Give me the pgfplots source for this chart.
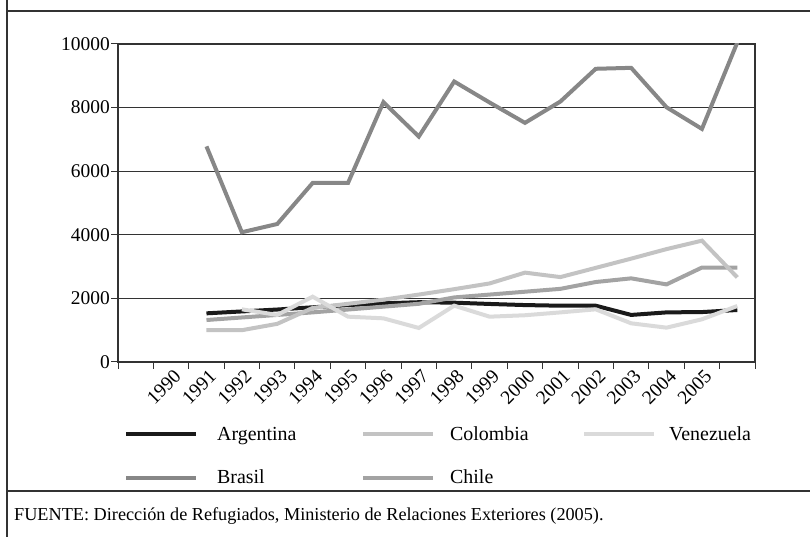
\documentclass[border=0pt]{standalone}
\usepackage{fontspec}
\setmainfont{Liberation Serif}
\usepackage{pgfplots}
\pgfplotsset{compat=1.18}
\definecolor{cArg}{HTML}{1A1A1A}
\definecolor{cBra}{HTML}{878787}
\definecolor{cChi}{HTML}{A3A3A3}
\definecolor{cCol}{HTML}{C3C3C3}
\definecolor{cVen}{HTML}{DADADA}
\definecolor{frm}{HTML}{333333}
\begin{document}
\begin{tikzpicture}[x=1bp,y=1bp]
\path[use as bounding box] (0,0) rectangle (810,537);
\draw[frm, line width=1.3bp] (7,537) -- (7,0);
\draw[frm, line width=1.3bp] (7,526) -- (810,526);
\draw[frm, line width=1.3bp] (7,46) -- (810,46);
\node[anchor=base west, inner sep=0pt, font=\fontsize{18.3}{21}\selectfont] at (14,16) {FUENTE: Dirección de Refugiados, Ministerio de Relaciones Exteriores (2005).};
\begin{axis}[
  at={(118bp,175bp)}, anchor=south west,
  scale only axis, width=637bp, height=318bp,
  xmin=-0.5, xmax=17.5, ymin=0, ymax=10000,
  xtick={-0.5,0.5,...,17.5}, xticklabels={},
  extra x ticks={1.05,2.05,...,16.05},
  extra x tick labels={1990,1991,1992,1993,1994,1995,1996,1997,1998,1999,2000,2001,2002,2003,2004,2005},
  extra x tick style={major tick length=0pt, grid=none},
  xticklabel shift=5bp,
  xtick pos=bottom, ytick pos=left,
  ytick={0,2000,...,10000},
  ymajorgrids, grid style={frm, line width=0.9bp},
  tick align=outside, major tick length=7bp,
  tick style={frm, line width=1bp},
  axis line style={frm, line width=1.2bp},
  scaled y ticks=false,
  /pgf/number format/assume math mode=true,
  /pgf/number format/1000 sep={},
  yticklabel style={font=\fontsize{19.5}{22}\selectfont, inner sep=1bp},
  xticklabel style={font=\fontsize{19.5}{22}\selectfont, rotate=45, anchor=north east, inner sep=1bp},
  clip=true,
  legend columns=3,
  legend cell align=left,
  legend image code/.code={\draw[#1] (0bp,0bp) -- (70bp,0bp);},
  legend style={at={(axis description cs:0.0094,-0.1964)}, anchor=north west, draw=none, fill=none, inner sep=0pt,
    font=\fontsize{20}{24}\selectfont, row sep=24bp,
    /tikz/every even column/.append style={column sep=0bp}},
]
\addplot[cArg, line width=4bp, forget plot] coordinates {
(2,1530) (3,1590) (4,1650) (5,1720) (6,1790) (7,1845) (8,1880) (9,1865) (10,1825) (11,1790) (12,1770) (13,1770) (14,1480) (15,1560) (16,1570) (17,1635)};
\addplot[cBra, line width=4bp, forget plot] coordinates {
(2,6780) (3,4080) (4,4340) (5,5630) (6,5630) (7,8170) (8,7090) (9,8820) (10,8160) (11,7520) (12,8190) (13,9220) (14,9250) (15,8010) (16,7330) (17,10050)};
\addplot[cChi, line width=4bp, forget plot] coordinates {
(2,1320) (3,1400) (4,1480) (5,1560) (6,1650) (7,1740) (8,1830) (9,2030) (10,2120) (11,2210) (12,2300) (13,2515) (14,2630) (15,2440) (16,2970) (17,2970)};
\addplot[cCol, line width=4bp, forget plot] coordinates {
(2,1000) (3,1000) (4,1200) (5,1700) (6,1830) (7,1960) (8,2120) (9,2290) (10,2470) (11,2810) (12,2670) (13,2960) (14,3250) (15,3550) (16,3815) (17,2660)};
\addplot[cVen, line width=4bp, forget plot] coordinates {
(3,1656) (4,1480) (5,2054) (6,1425) (7,1373) (8,1070) (9,1771) (10,1425) (11,1470) (12,1560) (13,1656) (14,1216) (15,1080) (16,1342) (17,1761)};
\addlegendimage{cArg, line width=4bp}
\addlegendentry{\hspace*{17bp}\makebox[142bp][l]{Argentina}}
\addlegendimage{cCol, line width=4bp}
\addlegendentry{\hspace*{13bp}\makebox[130bp][l]{Colombia}}
\addlegendimage{cVen, line width=4bp}
\addlegendentry{\hspace*{11bp}Venezuela}
\addlegendimage{cBra, line width=4bp}
\addlegendentry{\hspace*{17bp}Brasil}
\addlegendimage{cChi, line width=4bp}
\addlegendentry{\hspace*{13bp}Chile}
\end{axis}
\end{tikzpicture}
\end{document}
